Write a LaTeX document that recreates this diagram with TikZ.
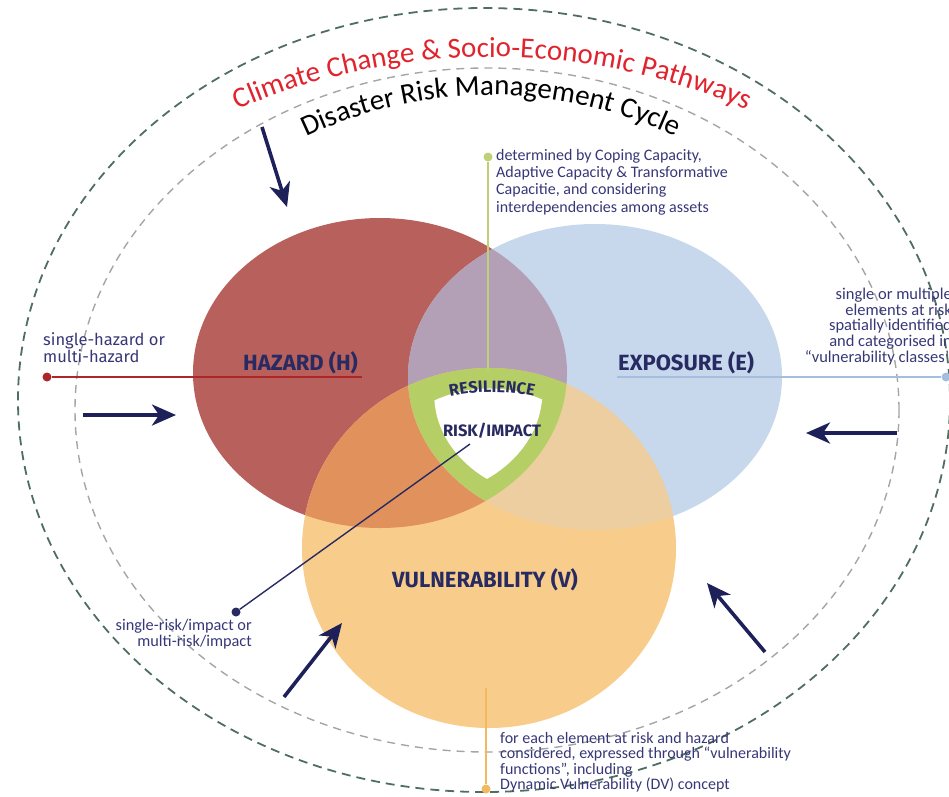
\documentclass[tikz,border=0pt]{standalone}
\usepackage{fontspec}
\setmainfont{Carlito}
\newfontfamily\labfont{Fira Sans}
\usetikzlibrary{arrows.meta,decorations.text}

\definecolor{hazc}{RGB}{183,96,92}
\definecolor{expc}{RGB}{200,216,236}
\definecolor{vulc}{RGB}{248,205,140}
\definecolor{hec}{RGB}{180,160,182}
\definecolor{hvc}{RGB}{225,146,92}
\definecolor{evc}{RGB}{236,206,160}
\definecolor{resc}{RGB}{182,206,102}
\definecolor{navy}{RGB}{40,42,98}
\definecolor{arrowc}{RGB}{30,32,90}
\definecolor{annot}{RGB}{55,55,120}
\definecolor{outerc}{RGB}{80,110,95}
\definecolor{innerc}{RGB}{165,165,165}
\definecolor{ccred}{RGB}{225,35,45}
\definecolor{resline}{RGB}{190,208,120}
\definecolor{hazline}{RGB}{172,38,42}
\definecolor{expline}{RGB}{165,190,222}
\definecolor{vulline}{RGB}{242,186,95}

% the three overlapping fields
\def\hazpath{(380,373) ellipse [x radius=187, y radius=155]}
\def\exppath{(595,377) ellipse [x radius=187, y radius=153]}
\def\vulpath{(489,548) ellipse [x radius=187, y radius=180]}

\begin{document}
\begin{tikzpicture}[x=1pt,y=-1pt,
  flow/.style={draw=arrowc, line width=3.6pt, -{Stealth[length=24pt,width=21pt,inset=7pt]}},
  lab/.style={font=\labfont\bfseries\fontsize{22}{22}\selectfont, text=navy, inner sep=0pt},
  note/.style={font=\fontsize{16}{17.3}\selectfont, text=annot, inner sep=0pt, align=left},
  dotc/.style={circle, inner sep=0pt, minimum size=9pt, fill=#1}
]
\useasboundingbox (0,0) rectangle (949,796);
\clip (0,0) rectangle (949,796);

% outer and inner dashed rings
\draw[outerc, line width=1.8pt, dash pattern=on 9pt off 6pt] (484,400) ellipse [x radius=466, y radius=392];
\draw[innerc, line width=1.4pt, dash pattern=on 8pt off 6pt] (487,410) ellipse [x radius=412, y radius=342];

% ring titles
\path[decorate, decoration={text along path, text align=center, text color=ccred,
  text={|\fontsize{29}{29}\selectfont|Climate Change {\&} Socio-Economic Pathways}}]
  (492,695) ++(-130:638) arc[start angle=-130, end angle=-50, radius=638];
\path[decorate, decoration={text along path, text align=center, text color=black,
  text={|\fontsize{29}{29}\selectfont|Disaster Risk Management Cycle}}]
  (491,523) ++(-145:428) arc[start angle=-145, end angle=-35, radius=428];

% fields and their overlaps
\fill[hazc] \hazpath;
\fill[expc] \exppath;
\fill[vulc] \vulpath;
\begin{scope}\clip \hazpath; \fill[hec] \exppath; \end{scope}
\begin{scope}\clip \hazpath; \fill[hvc] \vulpath; \end{scope}
\begin{scope}\clip \exppath; \fill[evc] \vulpath; \end{scope}
\begin{scope}\clip \hazpath; \clip \exppath; \fill[resc] \vulpath; \end{scope}
\begin{scope}[scale around={0.68:(490,432)}]
  \clip \hazpath; \clip \exppath; \fill[white] \vulpath;
\end{scope}

% leader lines with end dots
\node[dotc=resline] (dtop) at (488,157) {};
\coordinate (rtop) at (488,370);
\draw[resline, line width=1.6pt] (dtop) -- (rtop);

\node[dotc=hazline] (dleft) at (47,377) {};
\coordinate (hline) at (362,377);
\draw[hazline, line width=1.4pt] (dleft) -- (hline);

\node[dotc=expline] (dright) at (946,377) {};
\coordinate (eline) at (617,377);
\draw[expline, line width=1.4pt] (eline) -- (dright);

\node[dotc=vulline] (dbot) at (486,789) {};
\coordinate (vline) at (486,688);
\draw[vulline, line width=1.6pt] (vline) -- (dbot);

\node[dotc=navy] (drisk) at (236,612) {};
\coordinate (rline) at (470,444);
\draw[navy, line width=1.4pt] (rline) -- (drisk);

% field labels
\node[lab, anchor=base west] (hz) at (243,370) {HAZARD (H)};
\node[lab, anchor=base west] (ex) at (618,370) {EXPOSURE (E)};
\node[lab, anchor=base west] (vu) at (392,587) {VULNERABILITY (V)};
\path[decorate, decoration={text along path, text align=center, text color=navy,
  text={|\labfont\bfseries\fontsize{16.5}{16.5}\selectfont|RESILIENCE}}]
  (492,592) ++(-120:200) arc[start angle=-120, end angle=-60, radius=200];
\node[lab, font=\labfont\bfseries\fontsize{16.5}{16.5}\selectfont] (ri) at (492,431) {RISK/IMPACT};

% annotations
\node[note, anchor=north west] (ntop) at (496,149)
  {determined by Coping Capacity,\\Adaptive Capacity \& Transformative\\Capacitie, and considering\\interdependencies among assets};
\node[note, font=\labfont\fontsize{16.5}{16}\selectfont, anchor=north west] (nleft) at (43,332)
  {single-hazard or\\multi-hazard};
\node[note, font=\fontsize{16.5}{15.6}\selectfont, align=right, anchor=north east] (nright) at (952,288)
  {single or multiple\\elements at risk\\spatially identified\\and categorised in\\“vulnerability classes”};
\node[note, font=\fontsize{16}{15.4}\selectfont, anchor=north west] (nbot) at (500,732)
  {for each element at risk and hazard\\considered, expressed through “vulnerability\\functions”, including\\Dynamic Vulnerability (DV) concept};
\node[note, font=\fontsize{16.3}{16}\selectfont, align=right, anchor=north east] (nrisk) at (252,619)
  {single-risk/impact or\\multi-risk/impact};

% cycle arrows
\coordinate (a1s) at (262,127); \coordinate (a1e) at (287,207);
\coordinate (a2s) at (83,415);  \coordinate (a2e) at (176,415);
\coordinate (a3s) at (897,433); \coordinate (a3e) at (806,433);
\coordinate (a4s) at (284,697); \coordinate (a4e) at (342,623);
\coordinate (a5s) at (765,652); \coordinate (a5e) at (707,583);
\draw[flow] (a1s) -- (a1e);
\draw[flow] (a2s) -- (a2e);
\draw[flow] (a3s) -- (a3e);
\draw[flow] (a4s) -- (a4e);
\draw[flow] (a5s) -- (a5e);
\end{tikzpicture}
\end{document}
